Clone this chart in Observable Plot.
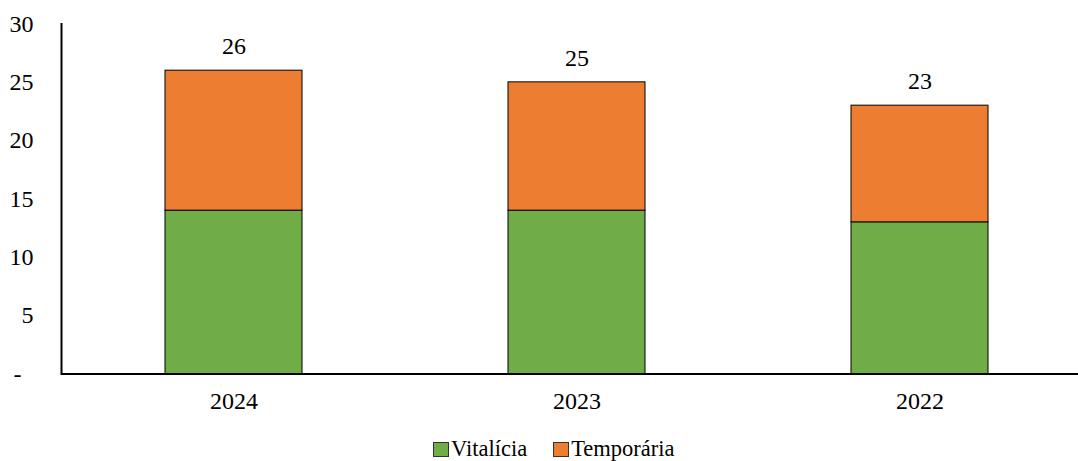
<!DOCTYPE html>
<html>
<head>
<meta charset="utf-8">
<script src="https://cdn.jsdelivr.net/npm/d3@7"></script>
<script src="https://cdn.jsdelivr.net/npm/@observablehq/plot@0.6"></script>
<style>
  html, body { margin: 0; padding: 0; background: #fff; }
  body { width: 1078px; height: 461px; overflow: hidden; font-family: 'Liberation Serif', 'Times New Roman', serif; }
  #legend { display: flex; justify-content: flex-start; align-items: center; padding-left: 433px; font-family: 'Liberation Serif', 'Times New Roman', serif; font-size: 22.5px; line-height: 22px; margin-top: 8px; color: #000; }
  .item { display: flex; align-items: center; margin-right: 26px; }
  .sw { width: 16px; height: 15px; border: 1px solid #333; margin-right: 2px; box-sizing: border-box; }
</style>
</head>
<body>
<div id="chart"></div>
<div id="legend"></div>
<script>
const years = ["2024", "2023", "2022"];
const vitalicia = [14, 14, 13];
const temporaria = [12, 11, 10];
const totals = [26, 25, 23];
const seriesNames = ["Vitalícia", "Temporária"];
const seriesColors = ["#70AD47", "#ED7D31"];
const yTicks = [0, 5, 10, 15, 20, 25, 30];

const rows = [];
years.forEach((y, i) => rows.push({year: y, series: seriesNames[0], value: vitalicia[i]}));
years.forEach((y, i) => rows.push({year: y, series: seriesNames[1], value: temporaria[i]}));
const totalRows = years.map((y, i) => ({year: y, total: totals[i]}));

const FONT = "'Liberation Serif', 'Times New Roman', serif";
const H = 430;
const chart = Plot.plot({
  width: 1078,
  height: H,
  marginLeft: 61,
  marginRight: 0,
  marginTop: 23.5,
  marginBottom: H - 373.5,
  style: {fontFamily: FONT, fontSize: "24px", color: "#000", background: "#fff"},
  x: {domain: years, range: [61, 1092], paddingInner: 0.6, paddingOuter: 0.3, align: 0.5},
  y: {domain: [0, 30]},
  color: {domain: seriesNames, range: seriesColors},
  marks: [
    Plot.barY(rows, {x: "year", y: "value", fill: "series", stroke: "#000", strokeWidth: 1}),
    Plot.text(totalRows, {x: "year", y: "total", text: d => String(d.total), dy: -24, fill: "#000", fontSize: 24, fontFamily: FONT}),
    Plot.axisY({ticks: yTicks, tickSize: 0, tickPadding: 28, tickFormat: d => d === 0 ? "-\u00a0\u00a0" : String(d), label: null, fill: "#000", fontSize: 24, fontFamily: FONT}),
    Plot.axisX({tickSize: 0, tickPadding: 18, label: null, fill: "#000", fontSize: 24, fontFamily: FONT}),
    Plot.frame({anchor: "left", stroke: "#000", strokeWidth: 2}),
    Plot.ruleY([0], {stroke: "#000", strokeWidth: 2})
  ]
});
document.getElementById("chart").appendChild(chart);

const legend = document.getElementById("legend");
seriesNames.forEach((name, i) => {
  const item = document.createElement("div");
  item.className = "item";
  const sw = document.createElement("span");
  sw.className = "sw";
  sw.style.background = seriesColors[i];
  const label = document.createElement("span");
  label.textContent = name;
  item.appendChild(sw);
  item.appendChild(label);
  legend.appendChild(item);
});
</script>
</body>
</html>
